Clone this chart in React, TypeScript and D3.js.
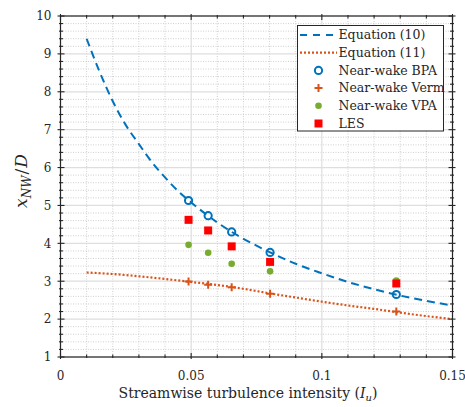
import { useEffect, useRef } from 'react';
import * as d3 from 'd3';

// Equation curves
const eq10X = [0.01, 0.015, 0.02, 0.025, 0.03, 0.035, 0.04, 0.045, 0.05, 0.06, 0.07, 0.08, 0.09, 0.1, 0.11, 0.12, 0.13, 0.14, 0.15];
const eq10Y = [9.4, 8.52, 7.75, 7.12, 6.62, 6.14, 5.74, 5.38, 5.08, 4.55, 4.12, 3.77, 3.46, 3.21, 2.98, 2.79, 2.62, 2.48, 2.36];
const eq11X = [0.01, 0.02, 0.03, 0.04, 0.05, 0.06, 0.07, 0.08, 0.09, 0.1, 0.11, 0.12, 0.13, 0.14, 0.15];
const eq11Y = [3.23, 3.19, 3.13, 3.06, 2.98, 2.9, 2.8, 2.68, 2.57, 2.46, 2.36, 2.27, 2.17, 2.08, 2.0];

// measurements
const intensity = [0.049, 0.0565, 0.0655, 0.0802, 0.1285];
const bpa = [5.13, 4.73, 4.3, 3.76, 2.65];
const verm = [2.99, 2.91, 2.84, 2.67, 2.2];
const vpa = [3.96, 3.75, 3.46, 3.26, 3.02];
const les = [4.62, 4.34, 3.92, 3.51, 2.94];

const xMajor = [0, 0.05, 0.1, 0.15];
const xTickLabels = ['0', '0.05', '0.1', '0.15'];
const yMajor = [1, 2, 3, 4, 5, 6, 7, 8, 9, 10];

const legendLabels = ['Equation (10)', 'Equation (11)', 'Near-wake BPA', 'Near-wake Verm', 'Near-wake VPA', 'LES'];

const BLUE = '#0072BD';
const ORANGE = '#D95319';
const GREEN = '#77AC30';
const RED = '#FF0000';
const FONT = "'DejaVu Serif', serif";

const App = () => {
  const svgRef = useRef<SVGSVGElement | null>(null);

  useEffect(() => {
    const W = 465;
    const H = 407;
    const margin = { top: 16, right: 12.5, bottom: 50, left: 60.5 };
    const width = W - margin.left - margin.right;
    const height = H - margin.top - margin.bottom;

    const root = d3.select(svgRef.current);
    root.selectAll('*').remove();
    root.attr('width', W).attr('height', H).style('font-family', FONT);
    root.append('rect').attr('width', W).attr('height', H).attr('fill', 'white');

    const svg = root.append('g').attr('transform', `translate(${margin.left},${margin.top})`);

    const x = d3.scaleLinear().domain([0, 0.15]).range([0, width]);
    const y = d3.scaleLinear().domain([1, 10]).range([height, 0]);

    const xMinor = d3.range(0, 16).map((i) => i * 0.01).filter((v) => !xMajor.some((m) => Math.abs(m - v) < 1e-9));
    const yMinor = d3.range(5, 51).map((i) => i * 0.2).filter((v) => Math.abs(v - Math.round(v)) > 1e-6);

    // grid
    const grid = svg.append('g');
    xMinor.forEach((v) => {
      grid.append('line').attr('x1', x(v)).attr('x2', x(v)).attr('y1', 0).attr('y2', height)
        .attr('stroke', '#c4c4c4').attr('stroke-width', 0.8).attr('stroke-dasharray', '1,1.5');
    });
    yMinor.forEach((v) => {
      grid.append('line').attr('x1', 0).attr('x2', width).attr('y1', y(v)).attr('y2', y(v))
        .attr('stroke', '#c4c4c4').attr('stroke-width', 0.8).attr('stroke-dasharray', '1,1.5');
    });
    xMajor.forEach((v) => {
      grid.append('line').attr('x1', x(v)).attr('x2', x(v)).attr('y1', 0).attr('y2', height)
        .attr('stroke', '#dedede').attr('stroke-width', 1.2);
    });
    yMajor.forEach((v) => {
      grid.append('line').attr('x1', 0).attr('x2', width).attr('y1', y(v)).attr('y2', y(v))
        .attr('stroke', '#dedede').attr('stroke-width', 1.2);
    });

    // curves
    const line = d3.line<[number, number]>().x((d) => x(d[0])).y((d) => y(d[1])).curve(d3.curveMonotoneX);
    svg.append('path')
      .attr('d', line(eq10X.map((v, i) => [v, eq10Y[i]])))
      .attr('fill', 'none').attr('stroke', BLUE).attr('stroke-width', 2)
      .attr('stroke-dasharray', '8,5');
    svg.append('path')
      .attr('d', line(eq11X.map((v, i) => [v, eq11Y[i]])))
      .attr('fill', 'none').attr('stroke', ORANGE).attr('stroke-width', 2.2)
      .attr('stroke-dasharray', '2,2');

    // markers
    const drawCircleOpen = (g, cx, cy) => g.append('circle').attr('cx', cx).attr('cy', cy).attr('r', 3.6)
      .attr('fill', 'none').attr('stroke', BLUE).attr('stroke-width', 2);
    const drawPlus = (g, cx, cy) => g.append('path')
      .attr('d', `M${cx - 4},${cy}H${cx + 4}M${cx},${cy - 4}V${cy + 4}`)
      .attr('stroke', ORANGE).attr('stroke-width', 2);
    const drawDot = (g, cx, cy) => g.append('circle').attr('cx', cx).attr('cy', cy).attr('r', 3.3).attr('fill', GREEN);
    const drawSquare = (g, cx, cy) => g.append('rect').attr('x', cx - 4).attr('y', cy - 4)
      .attr('width', 8).attr('height', 8).attr('fill', RED);

    intensity.forEach((v, i) => drawCircleOpen(svg, x(v), y(bpa[i])));
    intensity.forEach((v, i) => drawPlus(svg, x(v), y(verm[i])));
    intensity.forEach((v, i) => drawDot(svg, x(v), y(vpa[i])));
    intensity.forEach((v, i) => drawSquare(svg, x(v), y(les[i])));

    // box axes with ticks both ways
    const axisColor = '#262626';
    const ax = svg.append('g').attr('stroke', axisColor);
    ax.append('rect').attr('x', 0).attr('y', 0).attr('width', width).attr('height', height)
      .attr('fill', 'none').attr('stroke-width', 1.2);
    const tick = (x1, y1, x2, y2) => ax.append('line').attr('x1', x1).attr('y1', y1).attr('x2', x2).attr('y2', y2).attr('stroke-width', 1.1);
    xMajor.forEach((v) => { tick(x(v), height - 4, x(v), height + 2); tick(x(v), -2, x(v), 4); });
    xMinor.forEach((v) => { tick(x(v), height - 2.5, x(v), height + 1); tick(x(v), -1, x(v), 2.5); });
    yMajor.forEach((v) => { tick(-3, y(v), 4, y(v)); tick(width - 4, y(v), width + 3, y(v)); });
    yMinor.forEach((v) => { tick(-1.5, y(v), 2.5, y(v)); tick(width - 2.5, y(v), width + 1.5, y(v)); });

    // tick labels
    xMajor.forEach((v, i) => {
      svg.append('text').attr('x', x(v)).attr('y', height + 23).attr('text-anchor', 'middle')
        .attr('font-size', 12).attr('fill', axisColor).text(xTickLabels[i]);
    });
    yMajor.forEach((v) => {
      svg.append('text').attr('x', -9).attr('y', y(v)).attr('dy', '0.36em').attr('text-anchor', 'end')
        .attr('font-size', 12).attr('fill', axisColor).text(String(v));
    });

    // axis labels
    const xl = root.append('text').attr('x', 248).attr('y', 398).attr('text-anchor', 'middle')
      .attr('font-size', 14).attr('fill', axisColor);
    xl.append('tspan').text('Streamwise turbulence intensity (');
    xl.append('tspan').attr('font-style', 'italic').text('I');
    xl.append('tspan').attr('font-style', 'italic').attr('font-size', 10).attr('dy', 3).text('u');
    xl.append('tspan').attr('dy', -3).text(')');

    const yl = root.append('text')
      .attr('transform', 'translate(27,181) rotate(-90)')
      .attr('text-anchor', 'middle').attr('font-size', 17).attr('fill', axisColor);
    yl.append('tspan').attr('font-style', 'italic').text('x');
    yl.append('tspan').attr('font-style', 'italic').attr('font-size', 12).attr('dy', 3.5).text('NW');
    yl.append('tspan').attr('dy', -3.5).attr('dx', 1).text('/');
    yl.append('tspan').attr('font-style', 'italic').attr('dx', 1).text('D');

    // legend
    const lg = root.append('g');
    lg.append('rect').attr('x', 297.5).attr('y', 25.5).attr('width', 146).attr('height', 105.5)
      .attr('fill', 'white').attr('stroke', axisColor).attr('stroke-width', 1);
    legendLabels.forEach((label, i) => {
      const cy = 35 + i * 17.7;
      if (i === 0) {
        lg.append('line').attr('x1', 300).attr('x2', 337).attr('y1', cy).attr('y2', cy)
          .attr('stroke', BLUE).attr('stroke-width', 2).attr('stroke-dasharray', '7,6');
      } else if (i === 1) {
        lg.append('line').attr('x1', 300).attr('x2', 337).attr('y1', cy).attr('y2', cy)
          .attr('stroke', ORANGE).attr('stroke-width', 2.2).attr('stroke-dasharray', '2,2');
      } else if (i === 2) drawCircleOpen(lg, 318.5, cy);
      else if (i === 3) drawPlus(lg, 318.5, cy);
      else if (i === 4) drawDot(lg, 318.5, cy);
      else drawSquare(lg, 318.5, cy);
      lg.append('text').attr('x', 338.5).attr('y', cy).attr('dy', '0.35em')
        .attr('font-size', 12.5).attr('fill', axisColor).text(label);
    });
  }, []);

  return <svg ref={svgRef} style={{ position: 'absolute', left: 0, top: 0 }} />;
};

export default App;
